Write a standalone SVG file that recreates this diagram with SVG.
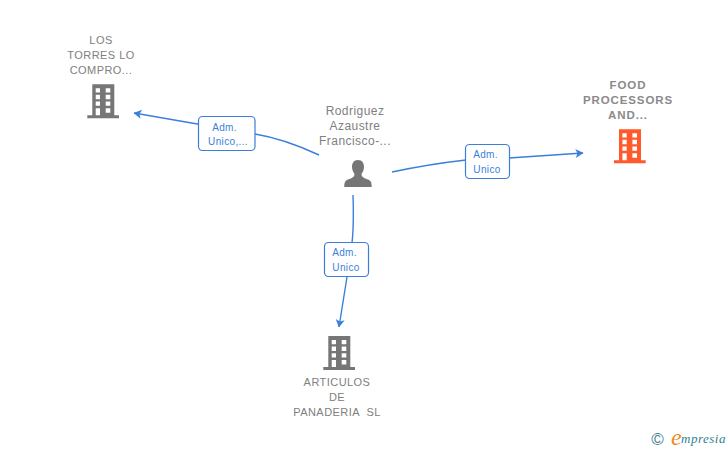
<svg xmlns="http://www.w3.org/2000/svg" width="728" height="450" viewBox="0 0 728 450">
<style>
.n{font-family:"Liberation Sans",Arial,sans-serif;font-size:11px;fill:#808080;text-anchor:middle;letter-spacing:.45px}
.f{font-weight:bold;font-size:11.500px;letter-spacing:.9px;fill:#8a8a8a}
.p{font-size:12px;letter-spacing:.45px}
.l{font-family:"Liberation Sans",Arial,sans-serif;font-size:10px;fill:#3b7fdb;text-anchor:middle;letter-spacing:.35px}
.b{fill:#fff;stroke:#3b7fdb;stroke-width:1.2}
.c{fill:none;stroke:#3b7fdb;stroke-width:1.4}
</style>
<defs>
<marker id="a" viewBox="0 0 10 10" refX="8.500" refY="5" markerWidth="10" markerHeight="10" markerUnits="userSpaceOnUse" orient="auto"><path d="M1 .5L9 5L1 9.500L3 5Z" fill="#3b7fdb"/></marker>
<path id="bld" fill-rule="evenodd" d="M92.300 84.300H114.300V115.300H119V118.300H87.300V115.300H92.300ZM95.700 88.300V92.500H100V88.300ZM105.700 88.300V92.500H110.300V88.300ZM95.700 94.800V99.200H100V94.800ZM105.700 94.800V99.200H110.300V94.800ZM95.700 101.500V105.700H100V101.500ZM105.700 101.500V105.700H110.300V101.500ZM95.700 108.200V115.300H100V108.200ZM105.700 108.200V112.700H110.300V108.200Z"/>
</defs>
<g id="connectors">
<path class="c" marker-end="url(#a)" d="M319 155Q285 139 255 134L134 113"/>
<path class="c" marker-end="url(#a)" d="M392 172Q430 164 466 160M509 158L583 153"/>
<path class="c" marker-end="url(#a)" d="M353 195Q354 225 352 243M347 277L339 327"/>
</g>
<g id="node-los-torres">
<use href="#bld" fill="#767676"/>
<text class="n" x="101" y="44">LOS</text><text class="n" x="101" y="59">TORRES LO</text><text class="n" x="101" y="74">COMPRO...</text>
</g>
<g id="node-rodriguez">
<path fill="#767676" d="M358 160C353.500 160 352 163.500 352 167C352 170 353.500 172.500 354.500 174C354.500 177 352 178 348 179.500C345 180.700 344.300 182.500 344.300 187H371.700C371.700 182.500 371 180.700 368 179.500C364 178 361.500 177 361.500 174C362.500 172.500 364 170 364 167C364 163.500 362.500 160 358 160Z"/>
<text class="n p" x="355" y="115">Rodriguez</text><text class="n p" x="355" y="130">Azaustre</text><text class="n p" x="355" y="145">Francisco-...</text>
</g>
<g id="node-food">
<use href="#bld" x="526.700" y="45" fill="#ff5a2c"/>
<text class="n f" x="628" y="89">FOOD</text><text class="n f" x="628" y="104">PROCESSORS</text><text class="n f" x="628" y="119">AND...</text>
</g>
<g id="node-articulos">
<use href="#bld" x="236" y="251.700" fill="#767676"/>
<text class="n" x="337" y="386">ARTICULOS</text><text class="n" x="337" y="401">DE</text><text class="n" x="337" y="416" xml:space="preserve">PANADERIA  SL</text>
</g>
<g id="label-1"><rect class="b" x="198.500" y="116.500" width="56.500" height="34" rx="4"/><text class="l" x="224.500" y="131">Adm.</text><text class="l" x="228" y="145">Unico,...</text></g>
<g id="label-2"><rect class="b" x="465.500" y="144.500" width="44" height="34" rx="4"/><text class="l" x="485.500" y="158">Adm.</text><text class="l" x="487" y="173">Unico</text></g>
<g id="label-3"><rect class="b" x="324.500" y="242.500" width="44" height="34" rx="4"/><text class="l" x="344.500" y="256">Adm.</text><text class="l" x="346" y="271">Unico</text></g>
<g id="logo">
<text x="657.500" y="444.500" font-family="Liberation Sans,sans-serif" font-size="17" fill="#3f7f93" text-anchor="middle">©</text>
<text x="671" y="445" font-family="Liberation Serif,serif" font-style="italic" font-size="24" fill="#f28a1e">e</text>
<text x="681" y="443" font-family="Liberation Serif,serif" font-style="italic" font-size="13" letter-spacing=".5" fill="#2f7f8f">mpresia</text>
</g>
</svg>
